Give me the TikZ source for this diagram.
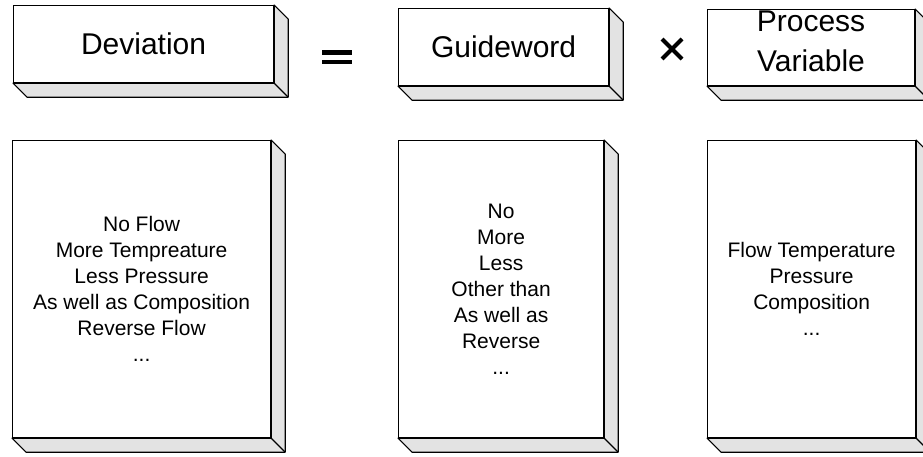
\documentclass[tikz,border=0pt]{standalone}
\usepackage{fontspec}
\setmainfont{Liberation Sans}
\usetikzlibrary{backgrounds}
\begin{document}
\begin{tikzpicture}[x=1pt,y=-1pt,
  face/.style={draw=black, line width=1.2pt, fill=white, align=center,
    inner sep=0pt, anchor=north west},
  bevel/.style={draw=black, line width=1.1pt, fill=gray!22, line join=round},
  headfont/.style={font=\fontsize{30}{40}\selectfont},
  listfont/.style={font=\fontsize{21}{26}\selectfont},
  opbar/.style={fill=black},
  cross/.style={draw=black, line width=4pt},
]
\useasboundingbox (0,0) rectangle (923,456);

% header row
\node[face, headfont, minimum width=260pt, minimum height=77pt] (devhead) at (13,5) {Deviation};
\node[face, headfont, minimum width=210pt, minimum height=77pt] (gwhead) at (398,8) {Guideword};
\node[face, minimum width=207pt, minimum height=76pt] (pvhead) at (707,9) {};
\node[headfont, align=center, inner sep=0pt] (pvlabel) at (811,41.5) {Process\\Variable};

% list row
\node[face, listfont, minimum width=258pt, minimum height=297pt] (devlist) at (12,140)
  {No Flow\\More Tempreature\\Less Pressure\\As well as Composition\\Reverse Flow\\...};
\node[face, listfont, minimum width=205pt, minimum height=297pt] (gwlist) at (398,140)
  {No\\More\\Less\\Other than\\As well as\\Reverse\\...};
\node[face, listfont, minimum width=208pt, minimum height=297pt] (pvlist) at (707,140)
  {Flow Temperature\\Pressure\\Composition\\...};

% bevelled sides behind every box
\begin{scope}[on background layer]
  \foreach \n in {devhead,gwhead,pvhead,devlist,gwlist,pvlist}{
    \draw[bevel] (\n.north east) -- ++(14,14) |- ([shift={(14,14)}]\n.south west)
      -- (\n.south west) -- (\n.south east) -- cycle;
    \draw[line width=1.1pt] (\n.south east) -- ++(14,14);
  }
\end{scope}

% operators
\coordinate (eq) at (337,56.5);
\fill[opbar] ([shift={(-15,-7)}]eq) rectangle ([shift={(15,-2)}]eq);
\fill[opbar] ([shift={(-15,3)}]eq) rectangle ([shift={(15,7.5)}]eq);
\coordinate (times) at (672,49);
\draw[cross] ([shift={(-10,-10)}]times) -- ([shift={(10,10)}]times);
\draw[cross] ([shift={(-10,10)}]times) -- ([shift={(10,-10)}]times);
\end{tikzpicture}
\end{document}
